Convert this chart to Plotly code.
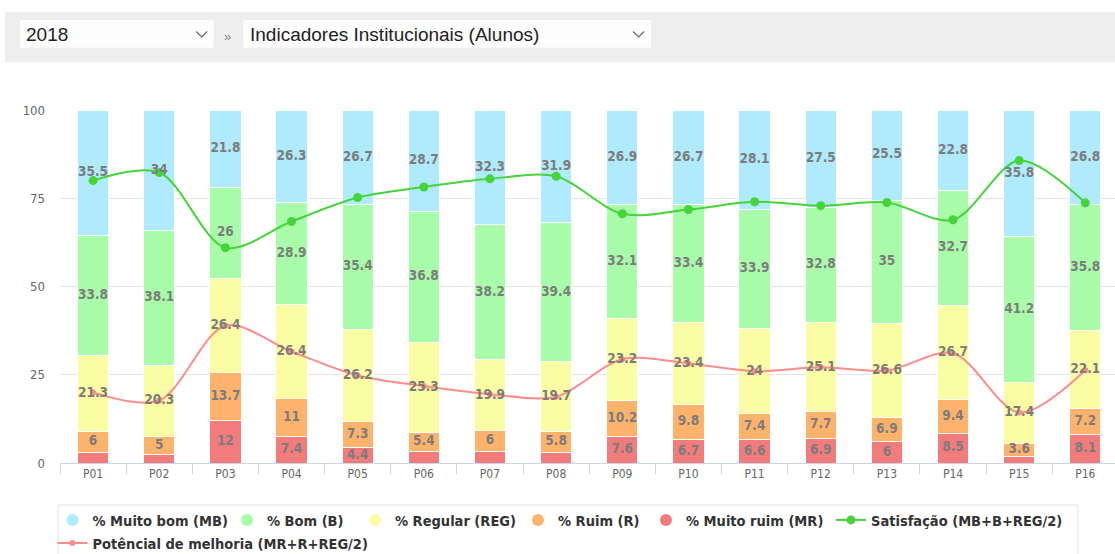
import numpy as np
import plotly.graph_objects as go

# ---------------- data ----------------
categories = ["P01", "P02", "P03", "P04", "P05", "P06", "P07", "P08",
              "P09", "P10", "P11", "P12", "P13", "P14", "P15", "P16"]
muito_bom = [35.5, 34, 21.8, 26.3, 26.7, 28.7, 32.3, 31.9, 26.9, 26.7, 28.1, 27.5, 25.5, 22.8, 35.8, 26.8]
bom = [33.8, 38.1, 26, 28.9, 35.4, 36.8, 38.2, 39.4, 32.1, 33.4, 33.9, 32.8, 35, 32.7, 41.2, 35.8]
regular = [21.3, 20.3, 26.4, 26.4, 26.2, 25.3, 19.9, 19.7, 23.2, 23.4, 24, 25.1, 26.6, 26.7, 17.4, 22.1]
ruim = [6, 5, 13.7, 11, 7.3, 5.4, 6, 5.8, 10.2, 9.8, 7.4, 7.7, 6.9, 9.4, 3.6, 7.2]
muito_ruim = [3.0, 2.4, 12, 7.4, 4.4, 3.3, 3.2, 3.1, 7.6, 6.7, 6.6, 6.9, 6, 8.5, 1.9, 8.1]
satisfacao = [80.0, 82.3, 61.0, 68.4, 75.2, 78.2, 80.5, 81.2, 70.6, 71.8, 74.0, 72.9, 73.8, 68.9, 85.7, 73.7]
potencial = [20.0, 17.7, 38.9, 31.6, 24.8, 21.8, 19.5, 18.8, 29.4, 28.2, 26.0, 27.1, 26.2, 31.1, 14.3, 26.3]
y_ticks = [0, 25, 50, 75, 100]

series_names = ["% Muito ruim (MR)", "% Ruim (R)", "% Regular (REG)", "% Bom (B)", "% Muito bom (MB)"]
series_vals = [muito_ruim, ruim, regular, bom, muito_bom]
series_cols = ["#f27b7b", "#feb36c", "#fbfda5", "#a9fca9", "#afeafd"]

# ---------------- geometry helpers ----------------
W, H = 1115, 554
L, T, B = 60, 110, 91
PW, PH = W - L, H - T - B


def px(x):
    return (x - L) / PW


def py(y):
    return (H - B - y) / PH


COND = "DejaVu Sans Condensed, DejaVu Sans, Liberation Sans Narrow, sans-serif"

fig = go.Figure()

# stacked bars (percent)
for name, vals, col in zip(series_names, series_vals, series_cols):
    fig.add_trace(go.Bar(
        x=categories, y=vals, name=name, marker=dict(color=col, line=dict(color="white", width=1)),
        showlegend=False, hoverinfo="skip"))

# lines
fig.add_trace(go.Scatter(
    x=categories, y=satisfacao, name="Satisfação (MB+B+REG/2)", mode="lines+markers",
    line=dict(color="#45d43a", width=2, shape="spline", smoothing=0.9),
    marker=dict(color="#45d43a", size=9), legend="legend6"))
fig.add_trace(go.Scatter(
    x=categories, y=potencial, name="Potêncial de melhoria (MR+R+REG/2)", mode="lines+markers",
    line=dict(color="#ff8c8c", width=2, shape="spline", smoothing=0.9),
    marker=dict(color="#ff8c8c", size=6), legend="legend7"))

# data labels (segment centers of the percent stack)
stack = np.array(series_vals, dtype=float)
norm = stack / stack.sum(axis=0) * 100
mid = np.cumsum(norm, axis=0) - norm / 2
lab_x, lab_y, lab_t = [], [], []
for i in range(stack.shape[0]):
    for j, c in enumerate(categories):
        v = stack[i, j]
        lab_x.append(c)
        lab_y.append(mid[i, j])
        lab_t.append(f"{v:g}" if v >= 3.5 else "")
fig.add_trace(go.Scatter(
    x=lab_x, y=lab_y, text=lab_t, mode="text", showlegend=False, hoverinfo="skip",
    textfont=dict(family=COND, size=13.5, color="#7c7c7c", weight="bold")))

# legend-only circle entries for the bar series
legend_of = {
    "% Muito bom (MB)": "legend", "% Bom (B)": "legend2", "% Regular (REG)": "legend3",
    "% Ruim (R)": "legend4", "% Muito ruim (MR)": "legend5",
}
for name, col in zip(series_names, series_cols):
    fig.add_trace(go.Scatter(
        x=[None], y=[None], mode="markers", name=name, legend=legend_of[name],
        marker=dict(color=col, size=12)))

legend_font = dict(family=COND, size=14.5, color="#333333", weight="bold")
legend_pos = {
    "legend": (92.5, 520), "legend2": (267, 520), "legend3": (395, 520),
    "legend4": (558, 520), "legend5": (686, 520), "legend6": (871, 520),
    "legend7": (92.5, 543),
}
legend_layouts = {}
for lg, (tx, ty) in legend_pos.items():
    legend_layouts[lg] = dict(
        x=px(tx - 40), y=py(ty), xanchor="left", yanchor="middle",
        bgcolor="rgba(0,0,0,0)", borderwidth=0, font=legend_font)

shapes = [
    # header band
    dict(type="rect", xref="paper", yref="paper", x0=px(5), x1=px(1115), y0=py(62.3), y1=py(12.3),
         fillcolor="#eeeeee", line=dict(width=0), layer="below"),
    dict(type="rect", xref="paper", yref="paper", x0=px(20), x1=px(213.7), y0=py(47.7), y1=py(20),
         fillcolor="#fdfdfd", line=dict(width=0), layer="below"),
    dict(type="rect", xref="paper", yref="paper", x0=px(243.3), x1=px(651), y0=py(47.7), y1=py(20),
         fillcolor="#fdfdfd", line=dict(width=0), layer="below"),
    # legend frame
    dict(type="rect", xref="paper", yref="paper", x0=px(58), x1=px(1078), y0=py(575), y1=py(505),
         fillcolor="rgba(0,0,0,0)", line=dict(color="#e2e2e2", width=1), layer="below"),
]
for cx in (201.7, 638.6):
    shapes.append(dict(
        type="path", xref="paper", yref="paper",
        path=f"M {px(cx - 5.5)} {py(31.5)} L {px(cx)} {py(37)} L {px(cx + 5.5)} {py(31.5)}",
        line=dict(color="#666666", width=1.2)))

annotations = [
    dict(text="2018", x=px(24), y=py(35), xref="paper", yref="paper", xanchor="left", yanchor="middle",
         showarrow=False, font=dict(family="Liberation Sans, Arial, sans-serif", size=19, color="#222222")),
    dict(text="»", x=px(227.5), y=py(36), xref="paper", yref="paper", xanchor="center", yanchor="middle",
         showarrow=False, font=dict(family="Liberation Sans, Arial, sans-serif", size=13, color="#888888")),
    dict(text="Indicadores Institucionais (Alunos)", x=px(248), y=py(35), xref="paper", yref="paper",
         xanchor="left", yanchor="middle", showarrow=False,
         font=dict(family="Liberation Sans, Arial, sans-serif", size=19, color="#222222")),
]

fig.update_layout(
    width=W, height=H,
    margin=dict(l=L, r=0, t=T, b=B, pad=0, autoexpand=False),
    paper_bgcolor="white", plot_bgcolor="white",
    barmode="stack", barnorm="percent", bargap=0.527,
    showlegend=True,
    shapes=shapes, annotations=annotations,
    xaxis=dict(type="category", categoryorder="array", categoryarray=categories,
               range=[-0.5, -0.5 + PW / 66.15], showgrid=False,
               showline=True, linecolor="#ccd6eb", linewidth=1,
               ticks="outside", tickson="boundaries", ticklen=10, tickcolor="#ccd6eb",
               tickfont=dict(family=COND, size=12, color="#666666"), fixedrange=True),
    yaxis=dict(range=[0, 100], tickvals=y_ticks, showgrid=True, gridcolor="#e6e6e6", gridwidth=1,
               zeroline=False, showline=False, ticks="", ticklabelstandoff=14,
               tickfont=dict(family=COND, size=13, color="#666666"), fixedrange=True),
    **legend_layouts,
)

fig.write_html(
    "out.html",
    config={"displayModeBar": False},
    post_script="document.body.style.margin='0px';document.body.style.overflow='hidden';",
)
